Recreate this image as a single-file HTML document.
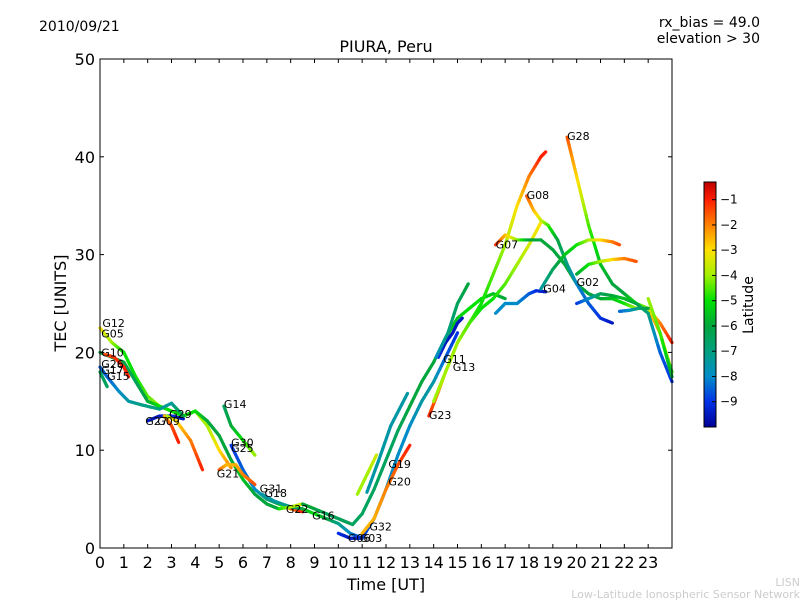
<!DOCTYPE html>
<html><head><meta charset="utf-8"><style>
body{margin:0;background:#fff;}
svg text{font-family:"DejaVu Sans","Liberation Sans",sans-serif;}
</style></head><body>
<svg id="chart" width="800" height="600" xmlns="http://www.w3.org/2000/svg">
<rect width="800" height="600" fill="#fff"/>
<text x="39" y="31" font-size="14">2010/09/21</text>
<text x="760" y="27" font-size="14" text-anchor="end">rx_bias = 49.0</text>
<text x="760" y="43" font-size="14" text-anchor="end">elevation &gt; 30</text>
<text x="386" y="52" font-size="16" text-anchor="middle">PIURA, Peru</text>
<g id="plot"></g>
<rect x="100" y="59" width="572" height="489" fill="none" stroke="#000" stroke-width="1"/>
<g id="axes"></g>
<text x="386" y="590" font-size="16" text-anchor="middle">Time [UT]</text>
<text x="0" y="0" font-size="16" text-anchor="middle" transform="translate(66,303) rotate(-90)">TEC [UNITS]</text>
<defs><linearGradient id="cmap" x1="0" y1="1" x2="0" y2="0"></linearGradient></defs>
<rect x="704" y="182" width="12" height="245" fill="url(#cmap)" stroke="#000" stroke-width="1"/>
<g id="cbticks"></g>
<text x="0" y="0" font-size="14" text-anchor="middle" transform="translate(753,305) rotate(-90)">Latitude</text>
<text x="800" y="586" font-size="11" fill="#ccc" text-anchor="end">LISN</text>
<text x="800" y="598" font-size="11" fill="#ccc" text-anchor="end">Low-Latitude Ionospheric Sensor Network</text>
</svg>
<script>
const xTicks=[0,1,2,3,4,5,6,7,8,9,10,11,12,13,14,15,16,17,18,19,20,21,22,23];
const yTicks=[0,10,20,30,40,50];
const cbTicks=[-1,-2,-3,-4,-5,-6,-7,-8,-9];
const tracks=[
{h:[0,0.5,1,1.5,2,2.5,3,3.5,4,4.5,5,5.5],v:[22.5,21,20,17.5,15.5,14.5,14,13.5,14,12.5,10,8.2],lat:[-3,-4,-5,-5,-4.5,-4,-4,-4,-4,-4,-3,-2]},
{h:[0,0.5,1,1.5,2,2.5,3,3.5,4,4.5,5,5.5,6,6.5,7,7.5],v:[20,19.5,19,17,15,14.5,14,13.5,14,13,11.5,9,7,5.5,4.5,4],lat:[-6,-6,-6,-6.5,-6,-5,-5,-5,-5,-6,-6,-6,-5.5,-6,-6,-6]},
{h:[0.2,0.6,1,1.2],v:[19.8,19.5,18.5,17.5],lat:[-1.5,-1.2,-1,-1]},
{h:[0,0.3,0.8,1.2,1.8,2.5,3,3.5],v:[18.5,17.5,16,15,14.6,14.2,14.8,13.5],lat:[-8.5,-8.5,-8,-7.5,-7,-7,-7.5,-6]},
{h:[0,0.2,0.3],v:[18,17,16.5],lat:[-6.5,-6.5,-6.5]},
{h:[2,2.5,3,3.5],v:[13,13.5,13.5,13.2],lat:[-9.5,-9.5,-9,-9.5]},
{h:[2.7,3,3.3],v:[13.5,12.5,10.8],lat:[-2.5,-1.5,-1]},
{h:[2.8,3.2,3.8,4.3],v:[13.5,13,11,8],lat:[-4,-3,-2,-1]},
{h:[5.2,5.5,6,6.5],v:[14.5,12.5,11,9.5],lat:[-6.5,-6,-5,-4]},
{h:[5.5,6,6.5,7,7.5,8,8.5],v:[10.5,8,6,5,4.5,4,3.7],lat:[-9,-8.5,-8,-7,-6,-2,-1]},
{h:[5,5.3,5.7,6,6.5],v:[8,8.5,8.5,7.5,6.5],lat:[-1.5,-2.5,-2.5,-2,-1.5]},
{h:[6.8,7.3,8,8.5,9,9.5,10,10.5,11],v:[5.5,4.8,4.2,4,3.5,3,2.5,1.5,1],lat:[-7.5,-7.5,-7,-6,-5,-6,-7,-8,-9]},
{h:[7.5,8,8.5,9,9.5,10,10.5],v:[4,4.2,4.5,4,3.5,3,2.5],lat:[-5,-4,-3.5,-4,-3,-2,-1]},
{h:[8.5,9,9.5,10,10.6,11,11.5,12,12.5,13,13.5,14,14.5,15,15.5,16,16.5,17],v:[4.5,4,3.5,3,2.4,3.5,6,9,12,14.5,17,19,21.5,23.5,24.5,25.5,26,25.5],lat:[-6,-6,-6.5,-6.5,-6.5,-6.5,-6.5,-6.5,-6.5,-6,-6,-6,-5.5,-5.5,-5,-5,-5.5,-6]},
{h:[10,10.5,11,11.5,12,12.5,13,13.5,14,14.5,15],v:[1.5,1,1,3,6,9.5,12.5,15,17,19.5,22],lat:[-9,-9.5,-9,-8.5,-8,-8,-8,-7.5,-7.5,-8.5,-9]},
{h:[11,11.5,12,12.5,13],v:[1.5,3,6,8.5,10.5],lat:[-2.5,-2.5,-2,-1.5,-1]},
{h:[11.2,11.7,12.2,12.9],v:[5.7,9,12.5,15.8],lat:[-7.5,-7.5,-7.5,-7.5]},
{h:[10.8,11.2,11.6],v:[5.5,7.5,9.5],lat:[-4,-4,-3.5]},
{h:[13.8,14.2,14.5,15,15.5,16,16.5,17,17.5,18,18.5,18.7],v:[13.5,16,18,21,23,25,28,31,35,38,40,40.5],lat:[-1,-2,-3,-4,-4.5,-5,-4.5,-4,-3,-2,-1,-1]},
{h:[14,14.5,15,15.5,16,16.5,17,17.5,18,18.5],v:[15,18,21,23,24.5,25.5,27,29,31,33.3],lat:[-4,-4,-4,-4.5,-5,-5,-4.5,-4,-3.5,-3]},
{h:[14.2,14.5,14.8,15,15.2],v:[19.5,21,22,23,23.5],lat:[-9,-9.5,-9.5,-9.5,-9.5]},
{h:[14.1,14.6,15,15.45],v:[19.5,22,25,27],lat:[-8,-7,-6.5,-6]},
{h:[16.6,17,17.5,18,18.5,19,19.5,20,20.5,21,21.5,22,22.5,23,23.5,24],v:[31,32,31.5,31.5,31.5,30.5,29,27,26,25.5,25.5,25,24.5,24.5,22,18],lat:[-1,-2.5,-4,-6,-6,-6,-6,-6,-6,-6,-5.5,-5,-4,-3,-2,-5]},
{h:[17.9,18.2,18.5,18.8,19.2,19.6,20,20.5,21,21.5],v:[36,34.5,33.5,33,31.5,29,27,25,23.5,23],lat:[-1.5,-2.5,-3.5,-4.5,-6,-7,-8,-8.5,-9,-9.5]},
{h:[19.6,19.9,20.2,20.5,21,21.5,22,22.5,23,23.5,24],v:[42,39,36,33,29,27,26,25,24.5,23,21],lat:[-1.5,-2.5,-3.5,-4.5,-5.5,-6,-6,-5,-4,-2,-1]},
{h:[16.6,17,17.5,18,18.3,18.7],v:[24,25,25,26,26.3,26.2],lat:[-8,-8,-8,-8.5,-9,-9.5]},
{h:[18.5,19,19.5,20,20.5,21,21.5,21.8],v:[26.5,28.5,30,31,31.5,31.5,31.3,31],lat:[-7.5,-6.5,-5.5,-5,-4,-3,-2,-1.5]},
{h:[20,20.5,21,21.5,22,22.5],v:[28,29,29.3,29.5,29.6,29.3],lat:[-6,-5,-4,-3,-2,-1.5]},
{h:[20,20.5,21,21.5,22,22.5,23,23.5,24],v:[25,25.5,26,25.8,25.5,25,24,20,17],lat:[-9,-8,-6.5,-6,-5.5,-6,-7,-8.5,-9]},
{h:[21.8,22.2,22.6,23],v:[24.2,24.3,24.5,24.5],lat:[-8.5,-8,-7,-6]},
{h:[23,23.5,24],v:[25.5,22,17.5],lat:[-4,-4.5,-6]}
];
const labels=[["G12",0.1,22.6],["G05",0.05,21.5],["G10",0.05,19.6],["G26",0.05,18.4],["G17",0.05,17.8],["G15",0.3,17.2],["G27",1.9,12.6],["G09",2.4,12.6],["G29",2.9,13.3],["G14",5.2,14.3],["G30",5.5,10.4],["G25",5.5,9.8],["G21",4.9,7.2],["G31",6.7,5.7],["G18",6.9,5.2],["G22",7.8,3.6],["G16",8.9,2.9],["G06",10.4,0.6],["G03",10.9,0.6],["G32",11.3,1.8],["G19",12.1,8.2],["G20",12.1,6.4],["G23",13.8,13.2],["G11",14.4,18.9],["G13",14.8,18.1],["G07",16.6,30.6],["G08",17.9,35.7],["G04",18.6,26.1],["G02",20,26.8],["G28",19.6,41.7]];
const X=h=>100+h*572/24, Y=v=>548-v*489/50;
// colormap anchors (latitude -> rgb)
const cmLat=[-10,-9,-8,-7,-6,-5,-4,-3,-2,-1,-0.3];
const cmCol=[[0,0,150],[0,50,230],[0,140,200],[0,160,128],[0,165,60],[0,225,0],[160,240,0],[255,225,0],[255,130,0],[255,30,0],[190,0,0]];
function latC(l){
 if(l<=cmLat[0])return `rgb(${cmCol[0]})`;
 for(let i=0;i<cmLat.length-1;i++){ if(l<=cmLat[i+1]){const f=(l-cmLat[i])/(cmLat[i+1]-cmLat[i]);
  const c=cmCol[i].map((v,k)=>Math.round(v+(cmCol[i+1][k]-v)*f));return `rgb(${c})`;}}
 return `rgb(${cmCol[cmCol.length-1]})`;
}
const NS="http://www.w3.org/2000/svg";
const grad=document.getElementById('cmap');
cmLat.forEach((l,i)=>{const s=document.createElementNS(NS,'stop');s.setAttribute('offset',(l+10)/9.7);s.setAttribute('stop-color',`rgb(${cmCol[i]})`);grad.appendChild(s);});
const plot=document.getElementById('plot');
tracks.forEach((tr,ti)=>{
 for(let i=0;i<tr.h.length-1;i++){
  const n=6;
  for(let k=0;k<n;k++){
   const a=k/n,b=(k+1)/n;
   const ln=document.createElementNS(NS,'line');
   
   
   ln.setAttribute('x1',X(tr.h[i]+(tr.h[i+1]-tr.h[i])*a));ln.setAttribute('y1',Y(tr.v[i]+(tr.v[i+1]-tr.v[i])*a));
   ln.setAttribute('x2',X(tr.h[i]+(tr.h[i+1]-tr.h[i])*b));ln.setAttribute('y2',Y(tr.v[i]+(tr.v[i+1]-tr.v[i])*b));
   const l=tr.lat[i]+(tr.lat[i+1]-tr.lat[i])*(a+b)/2;
   ln.setAttribute('stroke',latC(l));ln.setAttribute('stroke-width','3.2');ln.setAttribute('stroke-linecap','round');
   plot.appendChild(ln);
  }
 }
});
labels.forEach(L=>{const t=document.createElementNS(NS,'text');
 
 
 t.setAttribute('x',X(L[1]));t.setAttribute('y',Y(L[2]));t.setAttribute('font-size','11');t.textContent=L[0];plot.appendChild(t);});
const ax=document.getElementById('axes');
xTicks.forEach(h=>{const x=X(h);
 [[548,544],[59,63]].forEach(p=>{const l=document.createElementNS(NS,'line');
  
  
  l.setAttribute('x1',x);l.setAttribute('x2',x);l.setAttribute('y1',p[0]);l.setAttribute('y2',p[1]);l.setAttribute('stroke','#000');ax.appendChild(l);});
 const t=document.createElementNS(NS,'text');
 
 
 t.setAttribute('x',x);t.setAttribute('y',568);t.setAttribute('font-size','16');t.setAttribute('text-anchor','middle');t.textContent=h;ax.appendChild(t);});
yTicks.forEach(v=>{const y=Y(v);
 [[100,104],[672,668]].forEach(p=>{const l=document.createElementNS(NS,'line');
  
  
  l.setAttribute('x1',p[0]);l.setAttribute('x2',p[1]);l.setAttribute('y1',y);l.setAttribute('y2',y);l.setAttribute('stroke','#000');ax.appendChild(l);});
 const t=document.createElementNS(NS,'text');
 
 
 t.setAttribute('x',95);t.setAttribute('y',y+6);t.setAttribute('font-size','16');t.setAttribute('text-anchor','end');t.textContent=v;ax.appendChild(t);});
const cb=document.getElementById('cbticks');
cbTicks.forEach(l=>{const y=427-(l+10)*245/9.7;
 const ln=document.createElementNS(NS,'line');
 
 
 ln.setAttribute('x1',712);ln.setAttribute('x2',716);ln.setAttribute('y1',y);ln.setAttribute('y2',y);ln.setAttribute('stroke','#000');cb.appendChild(ln);
 const t=document.createElementNS(NS,'text');
 
 
 t.setAttribute('x',720);t.setAttribute('y',y+4);t.setAttribute('font-size','12');t.textContent='\u2212'+Math.abs(l);cb.appendChild(t);});
</script>
</body></html>
